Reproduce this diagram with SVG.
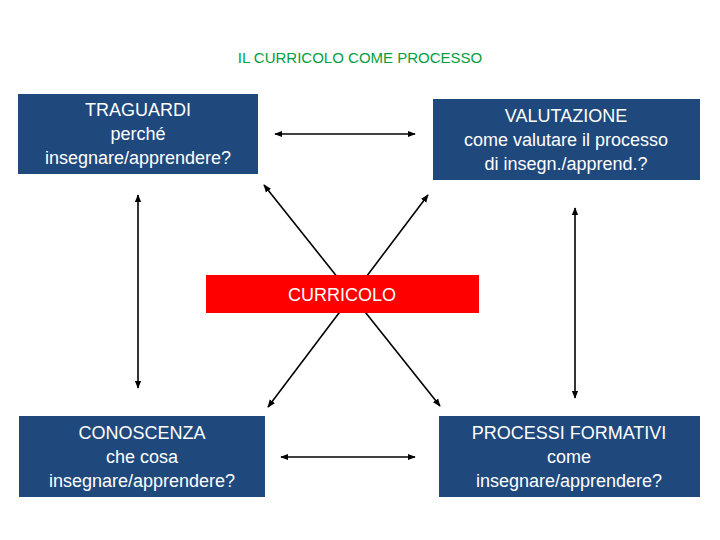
<svg xmlns="http://www.w3.org/2000/svg" width="720" height="540" viewBox="0 0 720 540">
<defs>
<marker id="a" viewBox="0 0 10 10" refX="9" refY="5" markerWidth="5" markerHeight="5" orient="auto-start-reverse"><path d="M0,1 L10,5 L0,9 z" fill="#000"/></marker>
<style>
.b{fill:#1f497d}
.t{font-family:"Liberation Sans",Arial,sans-serif;fill:#fff;font-size:18px;text-anchor:middle}
.c{stroke:#000;stroke-width:1.6;marker-start:url(#a);marker-end:url(#a)}
</style>
</defs>
<rect width="720" height="540" fill="#fff"/>
<text x="360" y="63" text-anchor="middle" font-family="Liberation Sans,Arial,sans-serif" font-size="15" fill="#00a040">IL CURRICOLO COME PROCESSO</text>
<g id="connectors">
<line class="c" x1="275" y1="134" x2="415" y2="134"/>
<line class="c" x1="281" y1="457" x2="415" y2="457"/>
<line class="c" x1="138" y1="195" x2="138" y2="388"/>
<line class="c" x1="575" y1="208" x2="575" y2="398"/>
<line class="c" x1="264" y1="185" x2="440" y2="406"/>
<line class="c" x1="428" y1="195" x2="268" y2="407"/>
</g>
<g id="curricolo"><rect x="206" y="275" width="273" height="38" fill="#f00"/><text class="t" x="342" y="301">CURRICOLO</text></g>
<g id="traguardi"><rect class="b" x="18" y="94" width="240" height="80"/><text class="t" x="138" y="116">TRAGUARDI</text><text class="t" x="138" y="140">perché</text><text class="t" x="138" y="164">insegnare/apprendere?</text></g>
<g id="valutazione"><rect class="b" x="433" y="99" width="267" height="81"/><text class="t" x="566" y="122">VALUTAZIONE</text><text class="t" x="566" y="146">come valutare il processo</text><text class="t" x="566" y="170">di insegn./apprend.?</text></g>
<g id="conoscenza"><rect class="b" x="19" y="416" width="246" height="81"/><text class="t" x="142" y="439">CONOSCENZA</text><text class="t" x="142" y="463">che cosa</text><text class="t" x="142" y="487">insegnare/apprendere?</text></g>
<g id="processi"><rect class="b" x="439" y="416" width="261" height="81"/><text class="t" x="569" y="439">PROCESSI FORMATIVI</text><text class="t" x="569" y="463">come</text><text class="t" x="569" y="487">insegnare/apprendere?</text></g>
</svg>
